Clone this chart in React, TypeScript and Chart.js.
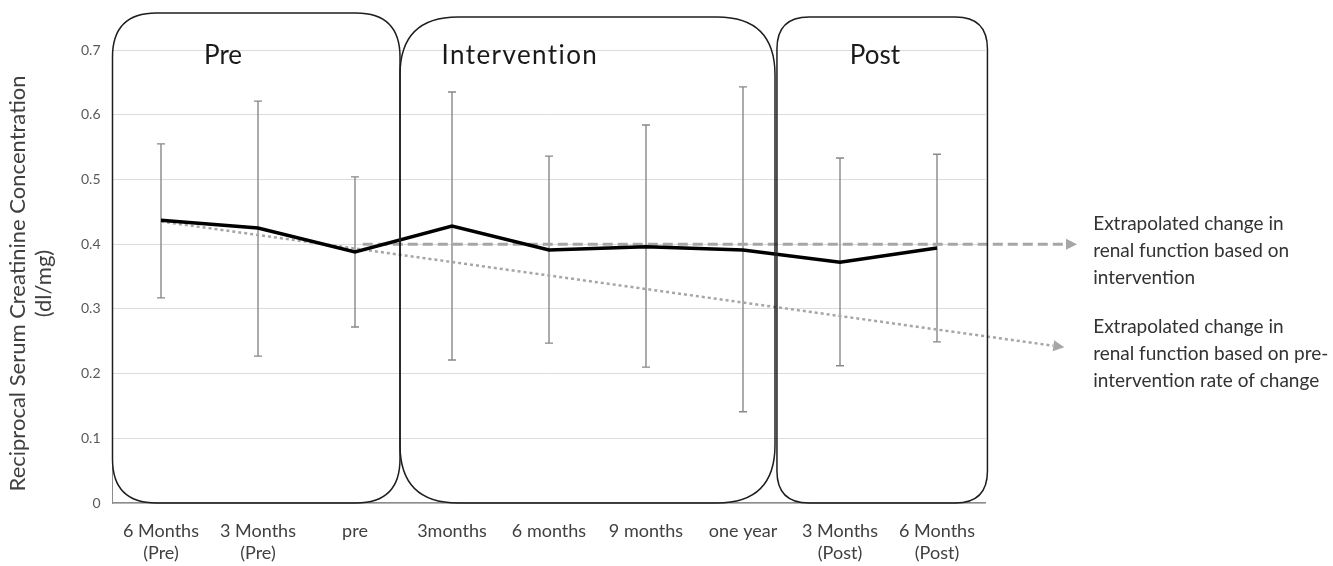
import React, { useEffect, useRef } from "react";
import { Chart, registerables } from "chart.js";
Chart.register(...registerables);

const categories: (string | string[])[] = [
  ["6 Months", "(Pre)"],
  ["3 Months", "(Pre)"],
  "pre",
  "3months",
  "6 months",
  "9 months",
  "one year",
  ["3 Months", "(Post)"],
  ["6 Months", "(Post)"],
];
const means = [0.437, 0.425, 0.388, 0.428, 0.391, 0.396, 0.391, 0.372, 0.394];
const errHigh = [0.555, 0.621, 0.504, 0.635, 0.536, 0.584, 0.643, 0.533, 0.539];
const errLow = [0.317, 0.227, 0.272, 0.221, 0.247, 0.21, 0.141, 0.212, 0.249];
const yTicks = [0, 0.1, 0.2, 0.3, 0.4, 0.5, 0.6, 0.7];

const interventionTrend = [
  { x: 2.08, y: 0.4 },
  { x: 9.33, y: 0.4 },
];
const preTrend = [
  { x: 0, y: 0.435 },
  { x: 9.2, y: 0.243 },
];

const phaseNames = ["Pre", "Intervention", "Post"];
const phaseStart = [-0.5, 2.464, 6.35];
const phaseEnd = [2.464, 6.33, 8.52];
const phaseTop = [0.757, 0.751, 0.751];
const phaseLabelX = [0.64, 3.7, 7.36];
const phaseLabelY = [0.692, 0.692, 0.692];
const phaseLabelSpacing = [0, 1.4, 0];
const phaseRadius = [44, 58, 32];

const annotationText = [
  ["Extrapolated change in", "renal function based on", "intervention"],
  ["Extrapolated change in", "renal function based on pre-", "intervention rate of change"],
];
const annotationX = 9.61;
const annotationY = [0.389, 0.231];
const yTitle = ["Reciprocal Serum Creatinine Concentration", "(dl/mg)"];

const FONT = "Lato, 'Open Sans', sans-serif";

function roundRect(ctx: CanvasRenderingContext2D, l: number, t: number, r: number, b: number, rad: number) {
  ctx.beginPath();
  ctx.moveTo(l + rad, t);
  ctx.lineTo(r - rad, t);
  ctx.quadraticCurveTo(r, t, r, t + rad);
  ctx.lineTo(r, b - rad);
  ctx.quadraticCurveTo(r, b, r - rad, b);
  ctx.lineTo(l + rad, b);
  ctx.quadraticCurveTo(l, b, l, b - rad);
  ctx.lineTo(l, t + rad);
  ctx.quadraticCurveTo(l, t, l + rad, t);
  ctx.closePath();
}

const overlay = {
  id: "overlay",
  beforeDatasetsDraw(chart: any) {
    const { ctx, scales } = chart;
    const x = scales.x, y = scales.y;
    ctx.save();
    ctx.strokeStyle = "#888888";
    ctx.lineWidth = 1.4;
    means.forEach((_m, i) => {
      const px = x.getPixelForValue(i);
      const hi = y.getPixelForValue(errHigh[i]);
      const lo = y.getPixelForValue(errLow[i]);
      ctx.beginPath();
      ctx.moveTo(px, hi);
      ctx.lineTo(px, lo);
      ctx.moveTo(px - 4, hi);
      ctx.lineTo(px + 4, hi);
      ctx.moveTo(px - 4, lo);
      ctx.lineTo(px + 4, lo);
      ctx.stroke();
    });
    ctx.restore();
  },
  afterDatasetsDraw(chart: any) {
    const { ctx } = chart;
    [1, 2].forEach((di) => {
      const pts = chart.getDatasetMeta(di).data;
      const a = pts[pts.length - 2], b = pts[pts.length - 1];
      const ang = Math.atan2(b.y - a.y, b.x - a.x);
      const len = 11, hw = 5.5;
      ctx.save();
      ctx.translate(b.x, b.y);
      ctx.rotate(ang);
      ctx.fillStyle = "#a6a6a6";
      ctx.beginPath();
      ctx.moveTo(0, -hw);
      ctx.lineTo(len, 0);
      ctx.lineTo(0, hw);
      ctx.closePath();
      ctx.fill();
      ctx.restore();
    });
  },
  afterDraw(chart: any) {
    const { ctx, scales } = chart;
    const x = scales.x, y = scales.y;
    ctx.save();
    // phase boxes
    ctx.strokeStyle = "#1e1e1e";
    ctx.lineWidth = 1.5;
    phaseNames.forEach((name, i) => {
      const l = x.getPixelForValue(phaseStart[i]);
      const r = x.getPixelForValue(phaseEnd[i]);
      const t = y.getPixelForValue(phaseTop[i]);
      const b = y.getPixelForValue(0);
      roundRect(ctx, l, t, r, b, phaseRadius[i]);
      ctx.stroke();
      ctx.fillStyle = "#1a1a1a";
      ctx.font = `26px ${FONT}`;
      (ctx as any).letterSpacing = `${phaseLabelSpacing[i]}px`;
      ctx.textAlign = "center";
      ctx.textBaseline = "middle";
      ctx.fillText(name, x.getPixelForValue(phaseLabelX[i]), y.getPixelForValue(phaseLabelY[i]));
      (ctx as any).letterSpacing = "0px";
    });
    // annotations
    ctx.fillStyle = "#333333";
    ctx.font = `19px ${FONT}`;
    ctx.textAlign = "left";
    ctx.textBaseline = "middle";
    annotationText.forEach((lines, i) => {
      const tx = x.getPixelForValue(annotationX);
      const cy = y.getPixelForValue(annotationY[i]);
      lines.forEach((ln, k) => {
        ctx.fillText(ln, tx, cy + (k - 1) * 27);
      });
    });
    // y title
    ctx.fillStyle = "#404040";
    ctx.font = `22px ${FONT}`;
    ctx.translate(18, (chart.chartArea.top + chart.chartArea.bottom) / 2 + 7);
    ctx.rotate(-Math.PI / 2);
    ctx.textAlign = "center";
    ctx.fillText(yTitle[0], 0, 0);
    ctx.fillText(yTitle[1], 0, 26);
    ctx.restore();
  },
};

export default function App() {
  const ref = useRef<HTMLCanvasElement | null>(null);
  useEffect(() => {
    if (!ref.current) return;
    const chart = new Chart(ref.current, {
      type: "line",
      data: {
        datasets: [
          {
            data: means.map((v, i) => ({ x: i, y: v })),
            borderColor: "#000000",
            borderWidth: 3.5,
            pointRadius: 0,
            tension: 0,
          },
          {
            data: interventionTrend,
            borderColor: "#a6a6a6",
            borderWidth: 3,
            borderDash: [10, 5],
            pointRadius: 0,
            clip: false as any,
          },
          {
            data: preTrend,
            borderColor: "#a6a6a6",
            borderWidth: 2.5,
            borderDash: [3, 3],
            pointRadius: 0,
            clip: false as any,
          },
        ],
      },
      plugins: [overlay],
      options: {
        animation: false,
        responsive: false,
        layout: { padding: { top: 50, right: 347.5, left: 0, bottom: 0 } },
        plugins: { legend: { display: false }, tooltip: { enabled: false } },
        scales: {
          x: {
            type: "linear",
            min: -0.5,
            max: 8.5,
            afterBuildTicks: (s: any) => {
              s.ticks = categories.map((_c, i) => ({ value: i }));
            },
            afterFit: (s: any) => {
              s.height = 63;
            },
            ticks: {
              callback: (v: any) => categories[Math.round(Number(v))] as any,
              color: "#404040",
              font: { family: FONT, size: 18, lineHeight: 1.22 },
              padding: 17,
              maxRotation: 0,
              autoSkip: false,
            },
            grid: { color: "rgba(0,0,0,0)", drawTicks: false },
            border: { display: true, color: "#8c8c8c", width: 1.5 },
          },
          y: {
            min: 0,
            max: 0.7,
            afterBuildTicks: (s: any) => {
              s.ticks = yTicks.map((v) => ({ value: v }));
            },
            afterFit: (s: any) => {
              s.width = 112.5;
            },
            ticks: {
              callback: (v: any) => (Number(v) === 0 ? "0" : Number(v).toFixed(1)),
              color: "#595959",
              font: { family: FONT, size: 14 },
              padding: 12,
            },
            grid: { color: "#dcdcdc", lineWidth: 1, drawTicks: false },
            border: { display: true, color: "#8c8c8c", width: 1 },
          },
        },
      },
    });
    return () => chart.destroy();
  }, []);
  return (
    <div style={{ position: "absolute", left: 0, top: 0, width: 1333, height: 566, background: "#fff" }}>
      <canvas ref={ref} width={1333} height={566} style={{ display: "block" }} />
    </div>
  );
}
